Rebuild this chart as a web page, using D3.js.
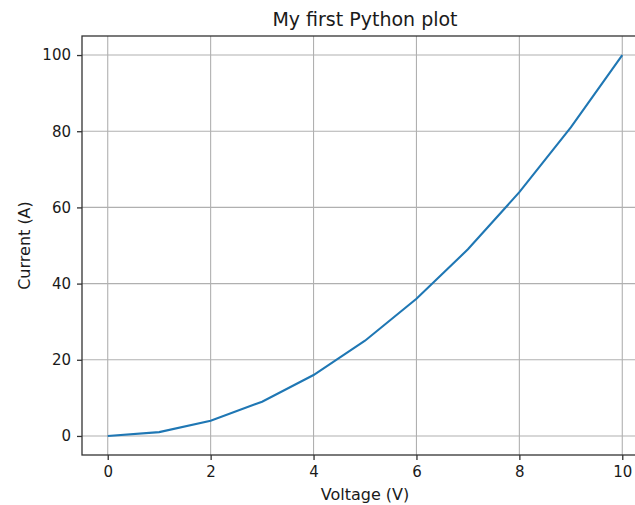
<!DOCTYPE html>
<html>
<head>
<meta charset="utf-8">
<script src="https://cdn.jsdelivr.net/npm/d3@7"></script>
<style>
  body { margin: 0; background: #fff; }
  text { font-family: "DejaVu Sans", sans-serif; fill: #1a1a1a; }
</style>
</head>
<body>
<div id="chart"></div>
<script>
// data
var voltage = [0, 1, 2, 3, 4, 5, 6, 7, 8, 9, 10];
var current = [0, 1, 4, 9, 16, 25, 36, 49, 64, 81, 100];
var xTicks = [0, 2, 4, 6, 8, 10];
var yTicks = [0, 20, 40, 60, 80, 100];

var svgWidth = 635;
var svgHeight = 505;

// plot box (right edge runs off the picture, like the original)
var margin = { top: 36, left: 82 };
var width = 566;
var height = 419;

var svg = d3.select("#chart")
  .append("svg")
  .attr("width", svgWidth)
  .attr("height", svgHeight);

var chartGroup = svg.append("g")
  .attr("transform", `translate(${margin.left}, ${margin.top})`);

var xScale = d3.scaleLinear().domain([-0.5, 10.5]).range([0, width]);
var yScale = d3.scaleLinear().domain([-5, 105]).range([height, 0]);

// grid
chartGroup.append("g")
  .selectAll("line")
  .data(xTicks)
  .enter()
  .append("line")
  .attr("x1", d => xScale(d)).attr("x2", d => xScale(d))
  .attr("y1", 0).attr("y2", height)
  .attr("stroke", "#b0b0b0").attr("stroke-width", 1.1);

chartGroup.append("g")
  .selectAll("line")
  .data(yTicks)
  .enter()
  .append("line")
  .attr("x1", 0).attr("x2", width)
  .attr("y1", d => yScale(d)).attr("y2", d => yScale(d))
  .attr("stroke", "#b0b0b0").attr("stroke-width", 1.1);

// the curve
var line = d3.line()
  .x((d, i) => xScale(voltage[i]))
  .y(d => yScale(d));

chartGroup.append("path")
  .datum(current)
  .attr("d", line)
  .attr("fill", "none")
  .attr("stroke", "#1f77b4")
  .attr("stroke-width", 2.1);

// frame
chartGroup.append("rect")
  .attr("width", width).attr("height", height)
  .attr("fill", "none")
  .attr("stroke", "#333").attr("stroke-width", 1.3);

// axes
var bottomAxis = d3.axisBottom(xScale).tickValues(xTicks).tickSize(5).tickPadding(6);
var leftAxis = d3.axisLeft(yScale).tickValues(yTicks).tickSize(5).tickPadding(6);

var xAxisG = chartGroup.append("g")
  .attr("transform", `translate(0, ${height})`)
  .call(bottomAxis);
var yAxisG = chartGroup.append("g").call(leftAxis);

[xAxisG, yAxisG].forEach(function(g) {
  g.select(".domain").remove();
  g.selectAll(".tick line").attr("stroke", "#333").attr("stroke-width", 1.3);
  g.selectAll(".tick text")
    .attr("font-family", "DejaVu Sans")
    .attr("font-size", "15px")
    .attr("fill", "#1a1a1a");
});

// labels
svg.append("text")
  .attr("x", margin.left + width / 2)
  .attr("y", 26)
  .attr("text-anchor", "middle")
  .attr("font-size", "19px")
  .text("My first Python plot");

svg.append("text")
  .attr("x", margin.left + width / 2)
  .attr("y", 500)
  .attr("text-anchor", "middle")
  .attr("font-size", "16px")
  .text("Voltage (V)");

svg.append("text")
  .attr("transform", "rotate(-90)")
  .attr("x", -(margin.top + height / 2))
  .attr("y", 30)
  .attr("text-anchor", "middle")
  .attr("font-size", "16px")
  .text("Current (A)");
</script>
</body>
</html>
